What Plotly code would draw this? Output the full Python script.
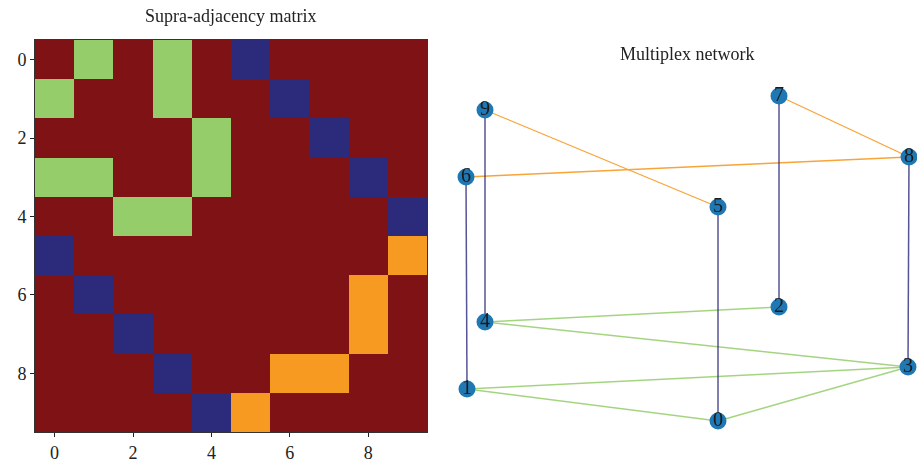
import plotly.graph_objects as go

# Supra-adjacency matrix: 0 = none, 1 = layer-1 edge, 2 = layer-2 edge, 3 = inter-layer
matrix = [
    [0, 1, 0, 1, 0, 3, 0, 0, 0, 0],
    [1, 0, 0, 1, 0, 0, 3, 0, 0, 0],
    [0, 0, 0, 0, 1, 0, 0, 3, 0, 0],
    [1, 1, 0, 0, 1, 0, 0, 0, 3, 0],
    [0, 0, 1, 1, 0, 0, 0, 0, 0, 3],
    [3, 0, 0, 0, 0, 0, 0, 0, 0, 2],
    [0, 3, 0, 0, 0, 0, 0, 0, 2, 0],
    [0, 0, 3, 0, 0, 0, 0, 0, 2, 0],
    [0, 0, 0, 3, 0, 0, 2, 2, 0, 0],
    [0, 0, 0, 0, 3, 2, 0, 0, 0, 0],
]
tick_vals = [0, 2, 4, 6, 8]

# Network node positions
node_ids = [0, 1, 2, 3, 4, 5, 6, 7, 8, 9]
node_x = [718, 467, 779, 908, 485, 718, 466, 779, 909, 485]
node_y = [421, 389, 307, 367, 322, 207, 177, 96, 157, 110]

layer1_edges = [(0, 1), (0, 3), (1, 3), (2, 4), (3, 4)]
layer2_edges = [(5, 9), (6, 8), (7, 8)]
inter_edges = [(0, 5), (1, 6), (2, 7), (3, 8), (4, 9)]

C_BG = "#7f1215"
C_L1 = "#95cd6b"
C_L2 = "#f79a22"
C_IN = "#2b2a7b"

FONT = "Liberation Serif"

fig = go.Figure()

fig.add_trace(go.Heatmap(
    z=matrix,
    zmin=0, zmax=3,
    colorscale=[[0, C_BG], [0.25, C_BG], [0.25, C_L1], [0.5, C_L1],
                [0.5, C_L2], [0.75, C_L2], [0.75, C_IN], [1, C_IN]],
    showscale=False,
    xaxis="x", yaxis="y",
    hoverinfo="skip",
))


def edge_trace(edges, color, width, opacity=1.0):
    xs, ys = [], []
    for a, b in edges:
        xs += [node_x[a], node_x[b], None]
        ys += [node_y[a], node_y[b], None]
    return go.Scatter(x=xs, y=ys, mode="lines",
                      line=dict(color=color, width=width),
                      opacity=opacity, xaxis="x2", yaxis="y2",
                      hoverinfo="skip", showlegend=False, cliponaxis=False)


fig.add_trace(edge_trace(layer1_edges, C_L1, 1.3, 0.85))
fig.add_trace(edge_trace(layer2_edges, C_L2, 1.3, 0.9))
fig.add_trace(edge_trace(inter_edges, C_IN, 1.5, 0.8))

fig.add_trace(go.Scatter(
    x=node_x, y=node_y, mode="markers+text",
    marker=dict(size=17, color="#1f78b4", line=dict(width=0)),
    text=[str(i) for i in node_ids],
    textposition="middle center",
    textfont=dict(family=FONT, size=20, color="#1a1a1a"),
    xaxis="x2", yaxis="y2", hoverinfo="skip", showlegend=False,
    cliponaxis=False,
))

W, H = 917, 466
fig.update_layout(
    width=W, height=H,
    margin=dict(l=0, r=0, t=0, b=0, autoexpand=False),
    paper_bgcolor="white", plot_bgcolor="white",
    showlegend=False,
    font=dict(family=FONT, size=17, color="#222222"),
    xaxis=dict(domain=[35 / W, 427 / W], range=[-0.5, 9.5],
               tickvals=tick_vals, ticks="outside", ticklen=4,
               tickcolor="#222", showgrid=False, zeroline=False,
               showline=True, linecolor="#333", linewidth=1, mirror=True,
               automargin=False,
               tickfont=dict(family=FONT, size=18, color="#222")),
    yaxis=dict(domain=[(H - 432) / H, (H - 40) / H], range=[9.5, -0.5],
               tickvals=tick_vals, ticks="outside", ticklen=4,
               tickcolor="#222", showgrid=False, zeroline=False,
               showline=True, linecolor="#333", linewidth=1, mirror=True,
               automargin=False,
               tickfont=dict(family=FONT, size=18, color="#222")),
    xaxis2=dict(domain=[440 / W, 1], range=[440, W], visible=False,
                anchor="y2", automargin=False),
    yaxis2=dict(domain=[0, 1], range=[H, 0], visible=False, anchor="x2",
                automargin=False),
    annotations=[
        dict(text="Supra-adjacency matrix", x=231 / W, y=(H - 16) / H,
             xref="paper", yref="paper", showarrow=False,
             xanchor="center", yanchor="middle",
             font=dict(family=FONT, size=18, color="#222")),
        dict(text="Multiplex network", x=687 / W, y=(H - 54) / H,
             xref="paper", yref="paper", showarrow=False,
             xanchor="center", yanchor="middle",
             font=dict(family=FONT, size=18, color="#222")),
    ],
)

fig.write_html(
    "out.html",
    config={"displayModeBar": False, "staticPlot": True},
    post_script="document.body.style.margin='0px';document.body.style.overflow='hidden';",
)
